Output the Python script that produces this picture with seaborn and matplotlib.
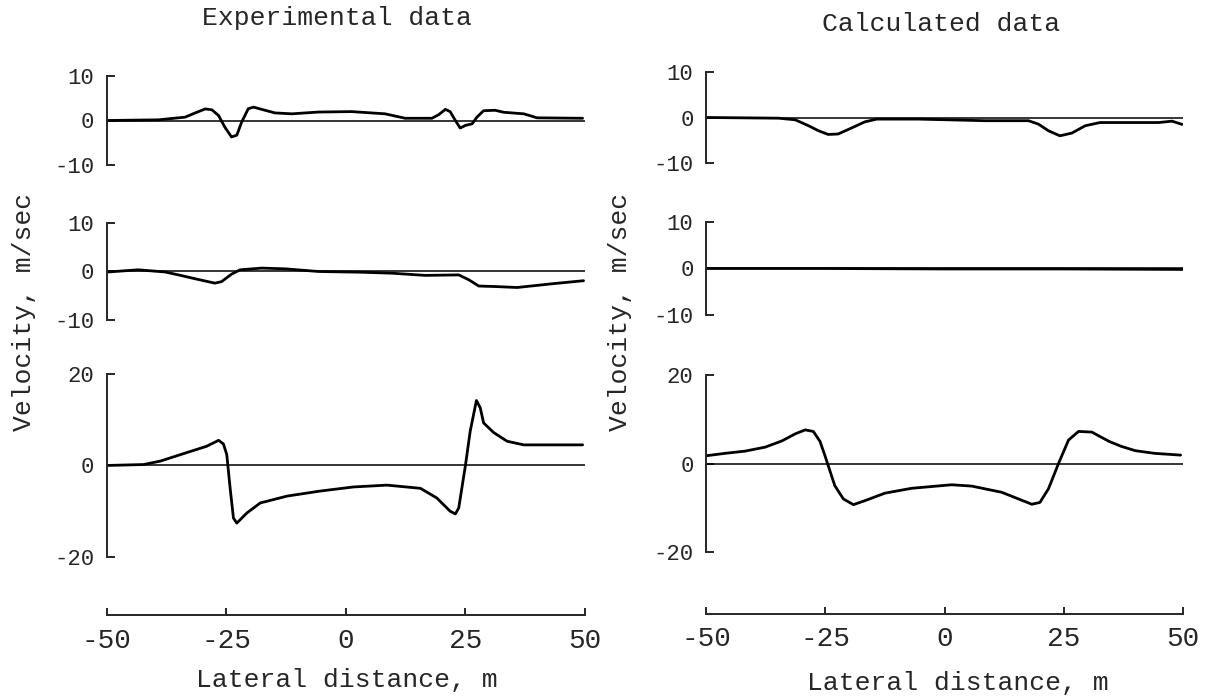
import matplotlib
matplotlib.use("Agg")
import matplotlib.pyplot as plt
import seaborn as sns

# lateral velocity profiles
exp_top_x = [-49.8, -39.2, -33.6, -31.5, -29.4, -28.0, -26.6, -25.3, -23.9, -22.8, -21.8, -20.4,
             -19.3, -16.9, -14.8, -11.3, -5.7, 1.2, 8.2, 12.4, 18.0, 19.4, 20.8, 21.8, 22.9, 23.9,
             25.0, 26.4, 27.4, 28.8, 31.2, 33.0, 37.2, 40.0, 49.5]
exp_top_y = [0.0, 0.15, 0.75, 1.7, 2.6, 2.4, 1.1, -1.5, -3.7, -3.3, -0.4, 2.65,
             3.0, 2.3, 1.7, 1.5, 1.9, 2.0, 1.5, 0.5, 0.5, 1.3, 2.5, 2.0, 0.0, -1.7,
             -1.1, -0.75, 0.75, 2.2, 2.3, 1.85, 1.5, 0.6, 0.5]

exp_mid_x = [-49.7, -43.4, -37.8, -35.0, -31.5, -27.4, -26.0, -23.9, -22.1, -17.6, -12.7, -5.7,
             3.3, 9.6, 16.6, 23.6, 25.7, 27.8, 31.2, 35.8, 43.4, 49.7]
exp_mid_y = [-0.1, 0.35, -0.1, -0.7, -1.5, -2.4, -2.1, -0.55, 0.35, 0.7, 0.55, 0.0,
             -0.15, -0.35, -0.8, -0.7, -1.7, -3.0, -3.1, -3.3, -2.5, -1.9]

exp_bot_x = [-50.0, -42.3, -38.8, -33.3, -29.1, -26.6, -25.6, -24.9, -24.2, -23.5, -22.8, -20.7,
             -17.9, -12.3, -5.4, 1.6, 8.6, 15.6, 19.0, 21.8, 22.9, 23.6, 25.0, 26.0, 27.3, 28.1,
             28.8, 30.9, 33.7, 37.2, 44.8, 49.5]
exp_bot_y = [0.0, 0.2, 0.95, 2.8, 4.2, 5.5, 4.7, 2.4, -4.9, -11.5, -12.6, -10.4,
             -8.2, -6.7, -5.6, -4.7, -4.3, -5.0, -7.1, -10.0, -10.6, -9.3, 0.0, 7.5, 14.2, 12.6,
             9.3, 7.2, 5.3, 4.5, 4.5, 4.5]

calc_top_x = [-49.7, -34.8, -31.3, -28.5, -26.4, -24.4, -22.3, -19.5, -16.7, -14.2, -5.5, 8.5,
              17.6, 19.7, 21.8, 24.2, 26.7, 29.5, 32.6, 44.9, 47.7, 49.8]
calc_top_y = [0.0, -0.15, -0.5, -1.8, -2.9, -3.7, -3.6, -2.3, -0.95, -0.35, -0.35, -0.7,
              -0.7, -1.45, -2.9, -4.0, -3.4, -1.8, -1.1, -1.1, -0.8, -1.5]

calc_mid_x = [-50.0, -25.0, 0.0, 25.0, 50.0]
calc_mid_y = [0.0, 0.0, -0.1, -0.1, -0.2]

calc_bot_x = [-50.0, -46.0, -41.8, -37.6, -34.1, -31.3, -29.2, -27.5, -26.1, -25.1, -24.4, -23.0,
              -21.2, -19.1, -16.7, -12.5, -6.9, 1.5, 5.7, 12.0, 15.5, 18.3, 20.0, 21.8, 23.9,
              26.0, 28.1, 30.9, 32.6, 34.5, 37.0, 40.0, 44.0, 49.5]
calc_bot_y = [1.75, 2.3, 2.8, 3.7, 5.1, 6.7, 7.6, 7.25, 5.0, 1.9, -0.4, -5.0,
              -8.0, -9.3, -8.4, -6.7, -5.6, -4.8, -5.1, -6.5, -8.0, -9.2, -8.8, -5.7, 0.0,
              5.3, 7.25, 7.1, 6.1, 5.0, 3.9, 2.9, 2.3, 1.9]

x_ticks = [-50, -25, 0, 25, 50]
titles = ["Experimental data", "Calculated data"]
y_label = "Velocity, m/sec"
x_label = "Lateral distance, m"

sns.set_style("white")
plt.rcParams["font.family"] = ["Liberation Mono", "DejaVu Sans Mono"]
plt.rcParams["axes.unicode_minus"] = False

W, H = 1213, 700
fig = plt.figure(figsize=(W / 100, H / 100), dpi=100)


def add_panel(x0, x1, ytop, ybot, x, y, ylim, yticks, bottom_axis=False):
    # pixel box -> figure fractions
    ax = fig.add_axes([x0 / W, 1 - ybot / H, (x1 - x0) / W, (ybot - ytop) / H])
    ax.axhline(0, color="black", lw=1.1, zorder=1)
    sns.lineplot(x=x, y=y, ax=ax, color="black", lw=2.0, estimator=None, sort=False, zorder=2)
    ax.set_xlim(-50, 50)
    ax.set_ylim(*ylim)
    for s in ["top", "right"]:
        ax.spines[s].set_visible(False)
    ax.spines["left"].set_bounds(yticks[0], yticks[-1])
    ax.spines["left"].set_linewidth(1.4)
    ax.set_yticks(yticks)
    ax.tick_params(axis="y", direction="in", length=6, width=1.4, pad=9, labelsize=16, left=True)
    if bottom_axis:
        ax.spines["bottom"].set_linewidth(1.4)
        ax.set_xticks(x_ticks)
        ax.tick_params(axis="x", direction="in", length=5, width=1.4, pad=9, labelsize=20, bottom=True)
    else:
        ax.spines["bottom"].set_visible(False)
        ax.set_xticks([])
    ax.set_xlabel("")
    ax.set_ylabel("")
    ax.patch.set_alpha(0)
    return ax


# experimental column
add_panel(106.7, 585, 76, 165, exp_top_x, exp_top_y, (-10, 10), [-10, 0, 10])
add_panel(106.7, 585, 223, 320, exp_mid_x, exp_mid_y, (-10, 10), [-10, 0, 10])
add_panel(106.7, 585, 374, 615, exp_bot_x, exp_bot_y, (-32.7, 20), [-20, 0, 20], bottom_axis=True)

# calculated column
add_panel(706, 1183, 71.7, 163.3, calc_top_x, calc_top_y, (-10, 10), [-10, 0, 10])
add_panel(706, 1183, 222, 315, calc_mid_x, calc_mid_y, (-10, 10), [-10, 0, 10])
add_panel(706, 1183, 375, 614, calc_bot_x, calc_bot_y, (-34.0, 20), [-20, 0, 20], bottom_axis=True)

fig.text(337 / W, 1 - 18 / H, titles[0], ha="center", va="center", fontsize=19)
fig.text(941 / W, 1 - 24 / H, titles[1], ha="center", va="center", fontsize=19)
fig.text(24 / W, 1 - 312 / H, y_label, rotation=90, ha="center", va="center", fontsize=19)
fig.text(620 / W, 1 - 312 / H, y_label, rotation=90, ha="center", va="center", fontsize=19)
fig.text(347 / W, 1 - 680 / H, x_label, ha="center", va="center", fontsize=19)
fig.text(958 / W, 1 - 683 / H, x_label, ha="center", va="center", fontsize=19)

fig.savefig("out.png", dpi=100, facecolor="white")
